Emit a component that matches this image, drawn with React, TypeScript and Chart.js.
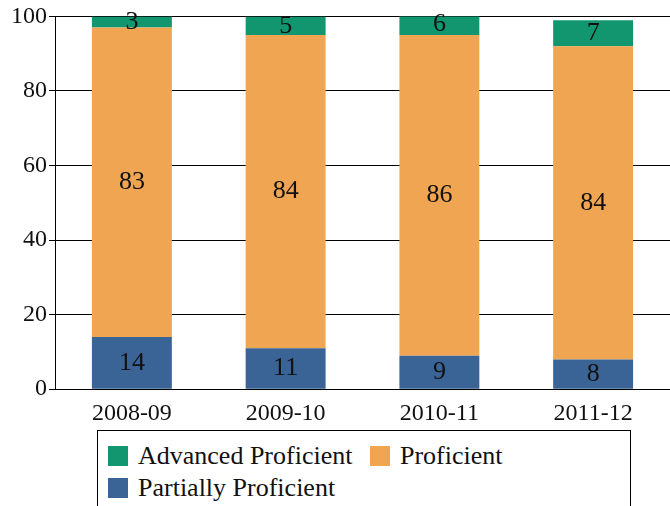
import React, { useEffect, useRef } from "react";
import Chart from "chart.js/auto";

const years = ["2008-09", "2009-10", "2010-11", "2011-12"];
const partially = [14, 11, 9, 8];
const proficient = [83, 84, 86, 84];
const advanced = [3, 5, 6, 7];
const yTicks = [0, 20, 40, 60, 80, 100];

const GREEN = "#12966f";
const ORANGE = "#f0a553";
const BLUE = "#3b6496";
const FONT = "'Liberation Serif', 'DejaVu Serif', serif";

const labelPlugin = {
  id: "barLabels",
  afterDatasetsDraw(chart: any) {
    const ctx = chart.ctx;
    ctx.save();
    ctx.font = `26px ${FONT}`;
    ctx.fillStyle = "#111";
    ctx.textAlign = "center";
    ctx.textBaseline = "middle";
    chart.data.datasets.forEach((ds: any, i: number) => {
      chart.getDatasetMeta(i).data.forEach((bar: any, j: number) => {
        const y = (bar.y + bar.base) / 2;
        ctx.fillText(String(ds.data[j]), bar.x, y);
      });
    });
    ctx.restore();
  },
};

export default function App() {
  const ref = useRef<HTMLCanvasElement | null>(null);

  useEffect(() => {
    document.body.style.margin = "0";
    if (!ref.current) return;
    const chart = new Chart(ref.current, {
      type: "bar",
      data: {
        labels: years,
        datasets: [
          { label: "Partially Proficient", data: partially, backgroundColor: BLUE },
          { label: "Proficient", data: proficient, backgroundColor: ORANGE },
          { label: "Advanced Proficient", data: advanced, backgroundColor: GREEN },
        ],
      },
      options: {
        animation: false,
        responsive: false,
        layout: { padding: { top: 16, right: 0, left: 9 } },
        plugins: { legend: { display: false }, tooltip: { enabled: false } },
        datasets: { bar: { barPercentage: 0.52, categoryPercentage: 1 } },
        scales: {
          x: {
            stacked: true,
            grid: { display: false },
            border: { color: "#000", width: 1 },
            ticks: { color: "#111", font: { family: FONT, size: 24 }, padding: 2 },
          },
          y: {
            stacked: true,
            min: 0,
            max: 100,
            afterBuildTicks: (axis: any) => {
              axis.ticks = yTicks.map((v) => ({ value: v }));
            },
            grid: { color: "#000", lineWidth: 1, tickLength: 6 },
            border: { color: "#000", width: 1 },
            ticks: { color: "#111", font: { family: FONT, size: 24 }, padding: 2 },
          },
        },
      },
      plugins: [labelPlugin],
    });
    return () => chart.destroy();
  }, []);

  const item = (color: string, text: string, left: number, top: number) => (
    <div style={{ position: "absolute", left, top, height: 30, display: "flex", alignItems: "center" }}>
      <div style={{ width: 20, height: 20, background: color, marginRight: 10 }} />
      <span style={{ fontFamily: FONT, fontSize: 26, color: "#111" }}>{text}</span>
    </div>
  );

  return (
    <div style={{ position: "relative", width: 670, height: 506, overflow: "hidden" }}>
      <canvas ref={ref} width={670} height={430} />
      <div
        style={{
          position: "absolute",
          left: 97,
          top: 430,
          width: 534,
          height: 100,
          border: "1px solid #000",
          boxSizing: "border-box",
        }}
      />
      {item(GREEN, "Advanced Proficient", 108, 441)}
      {item(ORANGE, "Proficient", 370, 441)}
      {item(BLUE, "Partially Proficient", 108, 473)}
    </div>
  );
}
